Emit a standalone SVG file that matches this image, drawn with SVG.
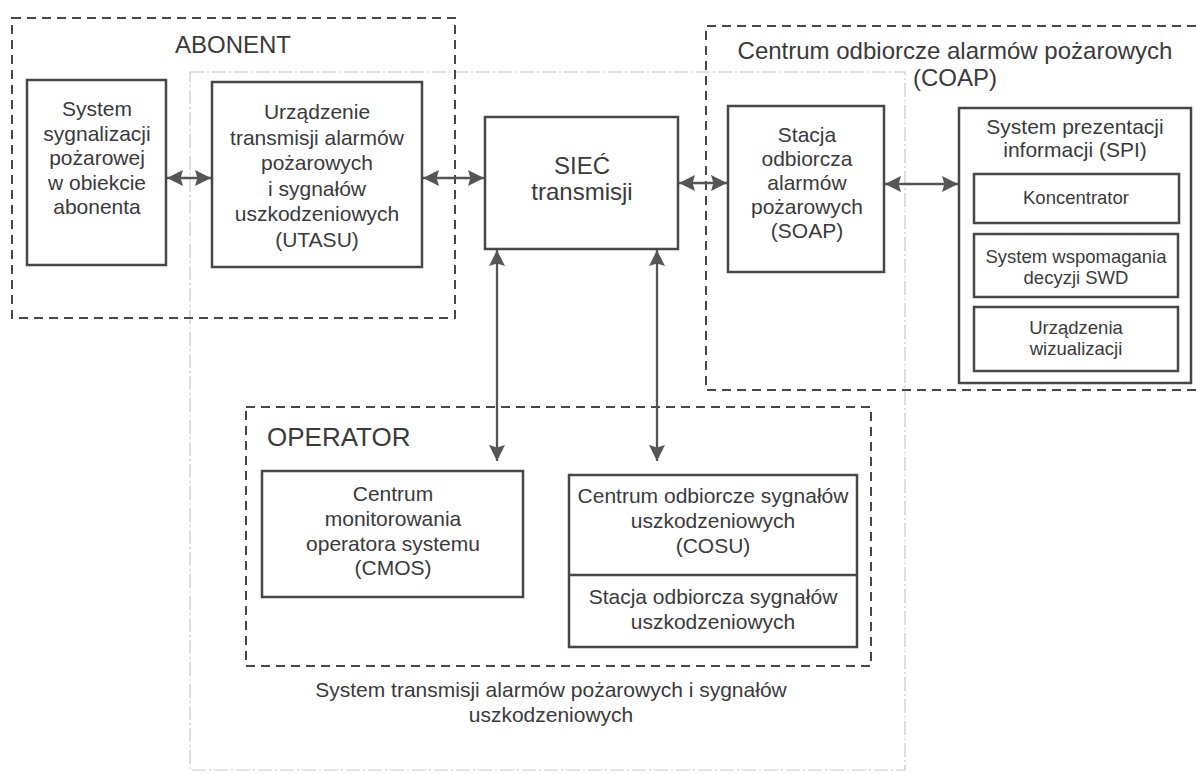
<svg xmlns="http://www.w3.org/2000/svg" width="1196" height="774" viewBox="0 0 1196 774">
<defs>
<style>
text{font-family:"Liberation Sans",Arial,sans-serif;fill:#3a3a3a;text-anchor:middle}
.t{font-size:21px}
.s{font-size:18.5px}
.h{font-size:24px}
.box{fill:#fff;stroke:#474747;stroke-width:2.5}
.grp{fill:none;stroke:#474747;stroke-width:2;stroke-dasharray:9 6}
.faint{fill:none;stroke:#c8c8c8;stroke-width:1.2;stroke-dasharray:14 3 2 3}
.con{fill:none;stroke:#555;stroke-width:2.3}
</style>
<marker id="ah" viewBox="0 0 10 10" refX="10" refY="5" markerWidth="17" markerHeight="16" markerUnits="userSpaceOnUse" orient="auto-start-reverse">
<path d="M0,0 L10,5 L0,10 L1.5,5 z" fill="#555"/>
</marker>
</defs>
<rect width="1196" height="774" fill="#fff"/>

<g id="system-boundary">
<rect class="faint" x="190" y="72" width="715" height="698"/>
<text class="t" x="551" y="697">System transmisji alarmów pożarowych i sygnałów</text>
<text class="t" x="551" y="722">uszkodzeniowych</text>
</g>

<g id="abonent">
<rect class="grp" x="12" y="18" width="443" height="300"/>
<text class="h" x="233" y="53">ABONENT</text>
</g>

<g id="coap">
<path class="grp" d="M1196,26 H706 V390 H1196"/>
<text class="h" x="955" y="59">Centrum odbiorcze alarmów pożarowych</text>
<text class="h" x="955" y="86">(COAP)</text>
</g>

<g id="operator">
<rect class="grp" x="246" y="407" width="625" height="259"/>
<text class="h" x="267" y="446" style="text-anchor:start;font-size:26px">OPERATOR</text>
</g>

<g id="ssp">
<rect class="box" x="27" y="80" width="139" height="185"/>
<text class="t" x="97" y="116">System</text>
<text class="t" x="97" y="140.5">sygnalizacji</text>
<text class="t" x="97" y="165">pożarowej</text>
<text class="t" x="97" y="189.5">w obiekcie</text>
<text class="t" x="97" y="214">abonenta</text>
</g>

<g id="utasu">
<rect class="box" x="212" y="82" width="210" height="185"/>
<text class="t" x="317" y="119">Urządzenie</text>
<text class="t" x="317" y="144.5">transmisji alarmów</text>
<text class="t" x="317" y="170">pożarowych</text>
<text class="t" x="317" y="195.5">i sygnałów</text>
<text class="t" x="317" y="221">uszkodzeniowych</text>
<text class="t" x="317" y="247">(UTASU)</text>
</g>

<g id="siec">
<rect class="box" x="485" y="117" width="193" height="132"/>
<text class="h" x="582" y="174">SIEĆ</text>
<text class="h" x="582" y="200">transmisji</text>
</g>

<g id="soap">
<rect class="box" x="728" y="106" width="156" height="166"/>
<text class="t" x="807" y="142">Stacja</text>
<text class="t" x="807" y="166">odbiorcza</text>
<text class="t" x="807" y="190">alarmów</text>
<text class="t" x="807" y="214">pożarowych</text>
<text class="t" x="807" y="238">(SOAP)</text>
</g>

<g id="spi">
<rect class="box" x="959" y="108" width="232" height="275"/>
<text class="t" x="1075" y="134">System prezentacji</text>
<text class="t" x="1075" y="157">informacji (SPI)</text>
<g id="koncentrator">
<rect class="box" x="974" y="174" width="205" height="49"/>
<text class="s" x="1076" y="204">Koncentrator</text>
</g>
<g id="swd">
<rect class="box" x="974" y="234" width="204" height="63"/>
<text class="s" x="1076" y="263">System wspomagania</text>
<text class="s" x="1076" y="284">decyzji SWD</text>
</g>
<g id="wizualizacja">
<rect class="box" x="974" y="307" width="204" height="64"/>
<text class="s" x="1076" y="334">Urządzenia</text>
<text class="s" x="1076" y="355">wizualizacji</text>
</g>
</g>

<g id="cmos">
<rect class="box" x="262" y="471" width="261" height="126"/>
<text class="t" x="393" y="501">Centrum</text>
<text class="t" x="393" y="526">monitorowania</text>
<text class="t" x="393" y="551">operatora systemu</text>
<text class="t" x="393" y="575">(CMOS)</text>
</g>

<g id="cosu">
<rect class="box" x="569" y="475" width="288" height="172"/>
<line x1="569" y1="575" x2="857" y2="575" stroke="#474747" stroke-width="2.5"/>
<text class="t" x="713" y="503">Centrum odbiorcze sygnałów</text>
<text class="t" x="713" y="528">uszkodzeniowych</text>
<text class="t" x="713" y="553">(COSU)</text>
<text class="t" x="713" y="604">Stacja odbiorcza sygnałów</text>
<text class="t" x="713" y="629">uszkodzeniowych</text>
</g>

<g id="connectors">
<line class="con" x1="167" y1="178" x2="211" y2="178" marker-start="url(#ah)" marker-end="url(#ah)"/>
<line class="con" x1="423" y1="178" x2="484" y2="178" marker-start="url(#ah)" marker-end="url(#ah)"/>
<line class="con" x1="679" y1="183" x2="727" y2="183" marker-start="url(#ah)" marker-end="url(#ah)"/>
<line class="con" x1="885" y1="184" x2="958" y2="184" marker-start="url(#ah)" marker-end="url(#ah)"/>
<line class="con" x1="497" y1="250" x2="497" y2="461" marker-start="url(#ah)" marker-end="url(#ah)"/>
<line class="con" x1="657" y1="250" x2="657" y2="461" marker-start="url(#ah)" marker-end="url(#ah)"/>
</g>
</svg>
